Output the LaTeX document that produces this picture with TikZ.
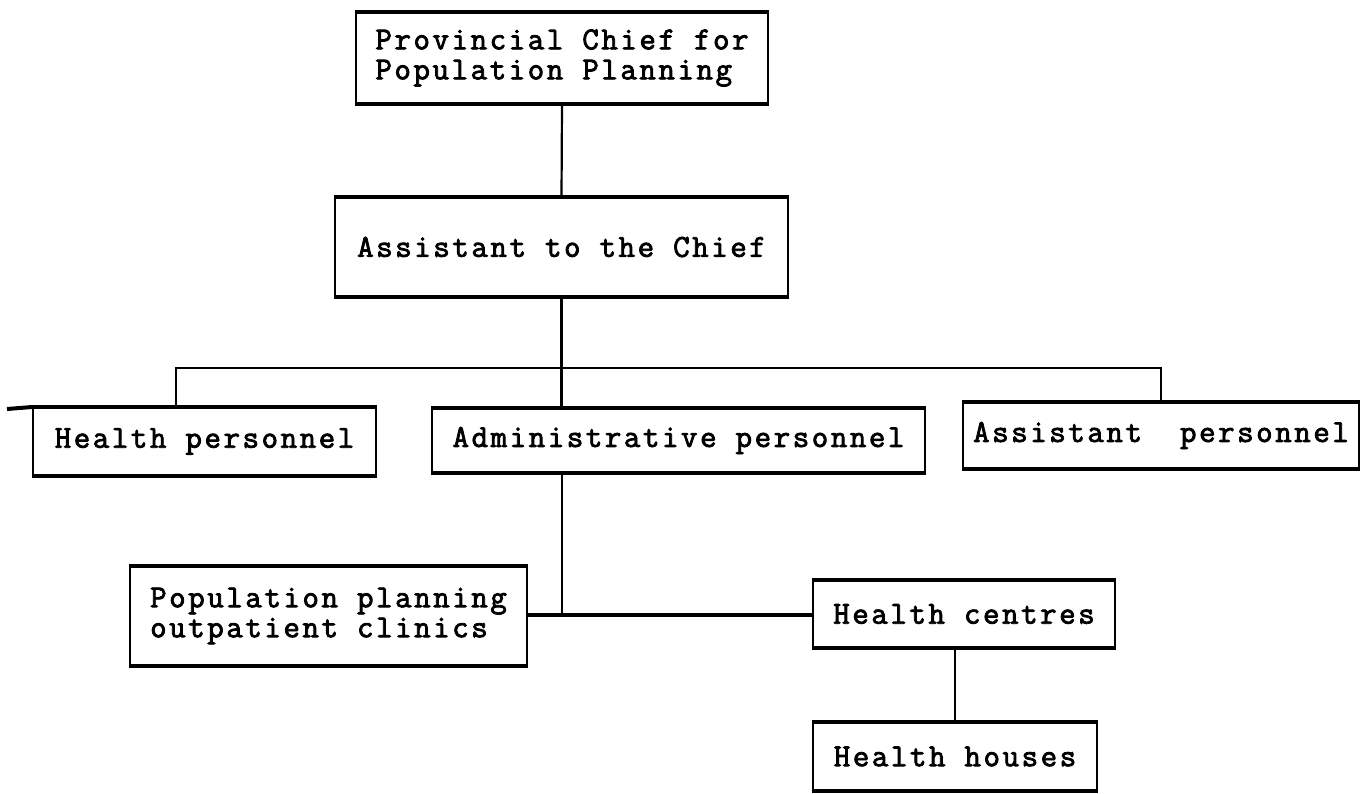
\documentclass[tikz,border=0pt]{standalone}
\usepackage{fontspec}
\newfontfamily\tw[LetterSpace=8, FakeBold=2.5]{Latin Modern Mono}
\begin{document}
\begin{tikzpicture}[x=0.5pt,y=-0.5pt,
  box/.style={draw, line width=1pt, inner sep=0pt, align=left,
    font=\fontsize{16}{15}\tw,
    append after command={
      (\tikzlastnode.north west) edge[line width=2.2pt] (\tikzlastnode.north east)
      (\tikzlastnode.south west) edge[line width=2.2pt] (\tikzlastnode.south east)}},
  link/.style={line width=1.1pt}]
\useasboundingbox (0,0) rectangle (1360,793);

% boxes of the chart
\node[box, minimum width=206pt,   minimum height=45pt]   (chief) at (562,58)
  {Provincial Chief for\\Population Planning};
\node[box, minimum width=226.5pt, minimum height=49pt]   (asst)  at (561.5,247)
  {Assistant to the Chief};
\node[box, minimum width=171.5pt, minimum height=33.5pt] (hp)    at (204.5,441.5)
  {Health personnel};
\node[box, minimum width=246.5pt, minimum height=31.5pt] (adm)   at (678.5,440.5)
  {Administrative personnel};
\node[box, minimum width=198pt,   minimum height=32.5pt] (ap)    at (1161,435.5)
  {Assistant\ \ personnel};
\node[box, minimum width=198.5pt, minimum height=49pt]   (pop)   at (328.5,616)
  {Population planning\\outpatient clinics};
\node[box, minimum width=151pt,   minimum height=33pt]   (hc)    at (964,614)
  {Health centres};
\node[box, minimum width=142pt,   minimum height=33.5pt] (hh)    at (955,756.5)
  {Health houses};

% junction points
\coordinate (hpj) at (176,368);
\coordinate (apj) at (1161,368);
\coordinate (j2)  at (562,615);
\coordinate (stub) at (7,409);

% connectors
\draw[link] (chief.south) -- (asst.north);
\draw[link] (asst.south) -- (asst.south |- adm.north);
\draw[link, line width=1.3pt] (hpj |- hp.north) -- (hpj) -- (apj) -- (ap.north);
\draw[link] (j2 |- adm.south) -- (j2);
\draw[link, line width=1.6pt] (pop.east |- j2) -- (hc.west |- j2);
\draw[link] (hh.north |- hc.south) -- (hh.north);
\draw[line width=2pt] (stub) -- (hp.north west);
\end{tikzpicture}
\end{document}
